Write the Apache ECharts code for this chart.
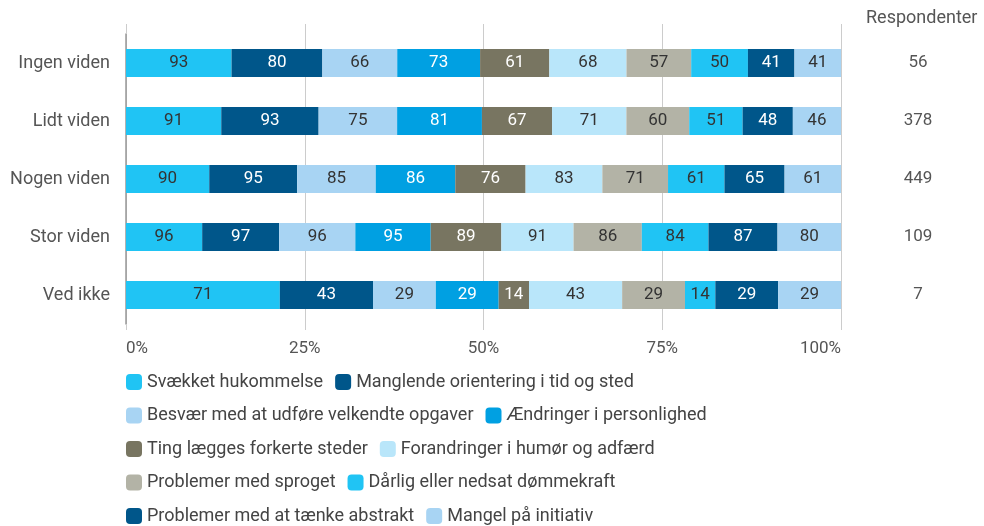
<!DOCTYPE html>
<html>
<head>
<meta charset="utf-8">
<script src="https://cdn.jsdelivr.net/npm/echarts@6/dist/echarts.min.js"></script>
<style>
  html, body { margin: 0; padding: 0; background: #fff; }
  #chart { width: 984px; height: 526px; }
</style>
</head>
<body>
<div id="chart"></div>
<script>
// kategorier (rækker) og antal respondenter
const categories = ['Ingen viden', 'Lidt viden', 'Nogen viden', 'Stor viden', 'Ved ikke'];
const respondents = [56, 378, 449, 109, 7];

// symptomer (serier)
const seriesNames = [
  'Svækket hukommelse',
  'Manglende orientering i tid og sted',
  'Besvær med at udføre velkendte opgaver',
  'Ændringer i personlighed',
  'Ting lægges forkerte steder',
  'Forandringer i humør og adfærd',
  'Problemer med sproget',
  'Dårlig eller nedsat dømmekraft',
  'Problemer med at tænke abstrakt',
  'Mangel på initiativ'
];

// værdier pr. række, i samme rækkefølge som seriesNames
const ingenViden = [93, 80, 66, 73, 61, 68, 57, 50, 41, 41];
const lidtViden  = [91, 93, 75, 81, 67, 71, 60, 51, 48, 46];
const nogenViden = [90, 95, 85, 86, 76, 83, 71, 61, 65, 61];
const storViden  = [96, 97, 96, 95, 89, 91, 86, 84, 87, 80];
const vedIkke    = [71, 43, 29, 29, 14, 43, 29, 14, 29, 29];
const rows = [ingenViden, lidtViden, nogenViden, storViden, vedIkke];

const xTicks = [0, 0.25, 0.5, 0.75, 1];

const colors = ['#20c4f4', '#00568a', '#a8d4f3', '#00a0e2', '#787561',
                '#b9e6fa', '#b3b3a6', '#20c4f4', '#00568a', '#a8d4f3'];
const whiteText = [false, true, false, true, true, false, false, false, true, false];

let chart = echarts.init(document.getElementById('chart'));

// hver række fylder 100 %
const rowSums = rows.map(r => r.reduce((a, b) => a + b, 0));

let series = seriesNames.map((name, i) => ({
  name: name,
  type: 'bar',
  stack: 'total',
  barWidth: 28,
  xAxisIndex: 0,
  yAxisIndex: 0,
  itemStyle: { color: colors[i] },
  label: {
    show: true,
    position: 'inside',
    fontFamily: 'Roboto',
    fontSize: 17,
    color: whiteText[i] ? '#ffffff' : '#333333',
    formatter: p => rows[p.dataIndex][i]
  },
  emphasis: { disabled: true },
  data: rows.map((r, k) => r[i] / rowSums[k])
}));

// legenden: to poster pr. linje
let legends = [];
for (let k = 0; k < seriesNames.length; k += 2) {
  legends.push({
    data: [seriesNames[k], seriesNames[k + 1]],
    left: 121,
    top: 368 + (k / 2) * 33.5,
    icon: 'roundRect',
    itemWidth: 16,
    itemHeight: 16,
    itemGap: 12,
    selectedMode: false,
    textStyle: { fontFamily: 'Roboto', fontSize: 18, color: '#444' }
  });
}

let option = {
  animation: false,
  title: {
    text: 'Respondenter',
    left: 861,
    top: 4,
    textStyle: { fontFamily: 'Roboto', fontSize: 18, fontWeight: 'normal', color: '#555' }
  },
  legend: legends,
  grid: { left: 126, right: 143, top: 34, height: 290 },
  xAxis: [
    {
      type: 'value',
      min: xTicks[0],
      max: xTicks[xTicks.length - 1],
      interval: xTicks[1] - xTicks[0],
      axisLine: { show: false },
      axisTick: { show: true, length: 6, lineStyle: { color: '#cccccc' } },
      splitLine: { lineStyle: { color: '#cccccc' } },
      axisLabel: {
        margin: 16,
        fontFamily: 'Roboto',
        fontSize: 17,
        color: '#555',
        alignMinLabel: 'left',
        alignMaxLabel: 'right',
        formatter: v => Math.round(v * 100) + '%'
      }
    },
    {
      type: 'value',
      position: 'top',
      min: xTicks[0],
      max: xTicks[xTicks.length - 1],
      interval: xTicks[1] - xTicks[0],
      axisLine: { show: false },
      axisTick: { show: true, length: 10, lineStyle: { color: '#cccccc' } },
      splitLine: { show: false },
      axisLabel: { show: false }
    }
  ],
  yAxis: [
    {
      type: 'category',
      inverse: true,
      data: categories,
      axisLine: { show: true, lineStyle: { color: '#999999', width: 1.5 } },
      axisTick: { show: false },
      axisLabel: { margin: 16, fontFamily: 'Roboto', fontSize: 18, color: '#555' }
    },
    {
      type: 'category',
      inverse: true,
      position: 'right',
      data: respondents.map(String),
      axisLine: { show: false },
      axisTick: { show: false },
      axisLabel: { margin: 77, align: 'center', fontFamily: 'Roboto', fontSize: 17, color: '#555' }
    }
  ],
  series: series
};

chart.setOption(option);
</script>
</body>
</html>
